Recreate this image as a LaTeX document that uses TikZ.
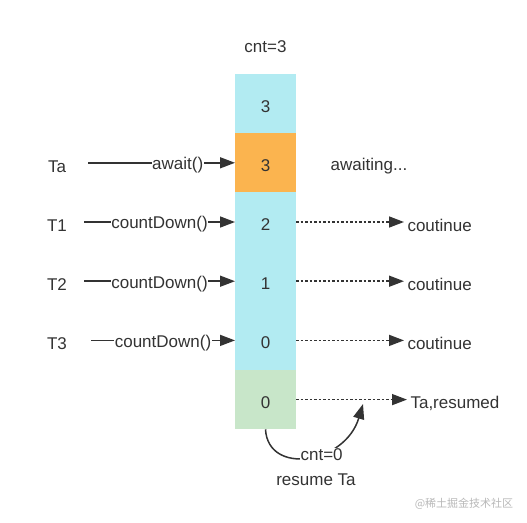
\documentclass[tikz,border=0pt]{standalone}
\usepackage{fontspec}
\setmainfont{Liberation Sans}
\newfontfamily\cjk{Noto Sans CJK SC}
\usepackage{xcolor}
\usepackage{tikz}
\usetikzlibrary{arrows.meta, positioning}

\definecolor{cellblue}{HTML}{B2EBF2}
\definecolor{cellorange}{HTML}{FBB44F}
\definecolor{cellgreen}{HTML}{C8E6C9}
\definecolor{ink}{HTML}{333333}

\tikzset{
    cell/.style={minimum width=61pt, minimum height=59.4pt, inner sep=0pt, outer sep=0pt, text height=17pt},
    arr/.style={draw=ink, line width=1.5pt, -{Triangle[length=15pt, width=11pt]}},
    dots/.style={arr, dash pattern=on 2.5pt off 2pt},
    onlabel/.style={fill=white, inner sep=0.5pt, yshift=-2.5pt}
}

\begin{document}
\begin{tikzpicture}[x=1pt, y=-1pt, node distance=59.2pt, on grid, text=ink,
                    font=\fontsize{17}{20}\selectfont]
        \useasboundingbox (0,0) rectangle (527,522);

        \node (cnt) at (265.5,47) {cnt=3};
        \node[cell, fill=cellblue]   (c0) at (265.5,103.6) {3};
        \node[cell, fill=cellorange] (c1) [below=of c0] {3};
        \node[cell, fill=cellblue]   (c2) [below=of c1] {2};
        \node[cell, fill=cellblue]   (c3) [below=of c2] {1};
        \node[cell, fill=cellblue]   (c4) [below=of c3] {0};
        \node[cell, fill=cellgreen]  (c5) [below=of c4] {0};

        \node (ta) at (57,166.5) {Ta};
        \node (t1) [below=of ta] {T1};
        \node (t2) [below=of t1] {T2};
        \node (t3) [below=of t2] {T3};
        \coordinate (ta-s) at (88,162.8);
        \coordinate (t1-s) at (84,222);
        \coordinate (t2-s) at (84,281.2);
        \coordinate (t3-s) at (91,340.4);

        \node (wait) at (369,166.5) {awaiting...};
        \node[anchor=west] (go2) at (404,225.5) {coutinue};
        \node[anchor=west] (go3) at (404,284.7) {coutinue};
        \node[anchor=west] (go4) at (404,343.9) {coutinue};
        \node[anchor=west] (res) at (407,403.1) {Ta,resumed};
        \coordinate (tip) at (363,404);
        \node (resume) at (316,480) {resume Ta};
        \node[text=black!28, font=\fontsize{11}{13}\selectfont\cjk] (mark) at (464,504) {@稀土掘金技术社区};

        \path
        (ta-s) edge[arr] node[onlabel, pos=.61] {await()} (c1.west)
        (t1-s) edge[arr] node[onlabel] {countDown()} (c2.west)
        (t2-s) edge[arr] node[onlabel] {countDown()} (c3.west)
        (t3-s) edge[arr] node[onlabel] {countDown()} (c4.west);

        \path
        (c2.east) edge[dots] (c2.east -| go2.west)
        (c3.east) edge[dots] (c3.east -| go3.west)
        (c4.east) edge[dots] (c4.east -| go4.west)
        (c5.east) edge[dots] (c5.east -| res.west);

        \draw[arr] (c5.south) .. controls (268,476) and (345,464) .. (tip)
             node[onlabel, pos=.6] {cnt=0};
\end{tikzpicture}
\end{document}
